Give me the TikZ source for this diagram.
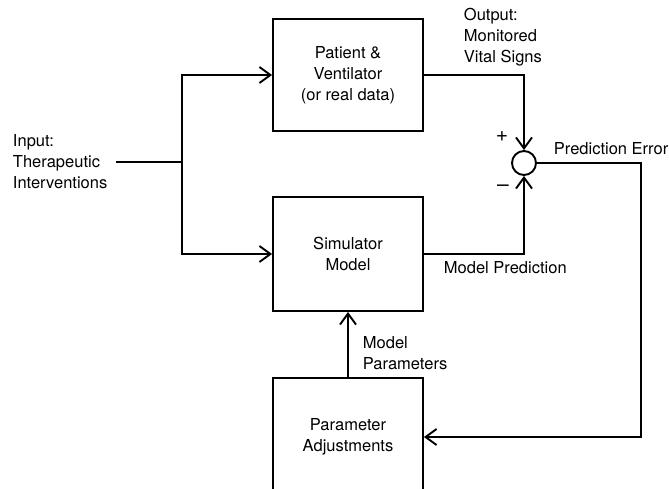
\documentclass[tikz,border=0pt]{standalone}
\usepackage{fontspec}
\setmainfont{TeX Gyre Heros}
\usetikzlibrary{arrows.meta,positioning}

\begin{document}
\begin{tikzpicture}[x=1pt,y=-1pt,line width=1.9pt,
  every node/.style={font=\fontsize{16.5}{21}\selectfont},
  block/.style={draw,minimum width=150pt,inner sep=0pt,align=center},
  lbl/.style={anchor=west,align=left,inner sep=0pt},
  sign/.style={font=\fontsize{21}{21}\selectfont,inner sep=0pt},
  arr/.style={-{Straight Barb[length=11pt,width=16pt]}}]
\clip (0,0) rectangle (669,489);
% blocks
\node [block,minimum height=112pt] (patient) at (348,75) {Patient \&\\Ventilator\\(or real data)};
\node [block,minimum height=114pt] (sim) at (348,254) {Simulator\\Model};
\node [block,minimum height=118pt] (param) at (348,437) {Parameter\\Adjustments};
\node [draw,circle,minimum size=24pt,inner sep=0pt] (sum) at (524,163) {};
% labels
\node [lbl] (input) at (12,162) {Input:\\Therapeutic\\Interventions};
\node [lbl] (output) at (463,37) {Output:\\Monitored\\Vital Signs};
\node [lbl] (error) at (553,149) {Prediction Error};
\node [lbl] (pred) at (443,268) {Model Prediction};
\node [lbl] (mpar) at (362,353) {Model\\Parameters};
\node [sign] (plus) at (502,137) {+};
\node [sign] (minus) at (503,188) {--};
\coordinate (in) at (116,162);
\coordinate (split) at (182,162);
\coordinate (turn) at (641,163);
% connectors
\draw (in) -- (split);
\draw [arr] (split) |- (patient.west);
\draw [arr] (split) |- (sim.west);
\draw [arr] (patient.east) -| (sum.north);
\draw [arr] (sim.east) -| (sum.south);
\draw [arr] (sum.east) -- (turn) |- (param.east);
\draw [arr] (param) -- (sim);
\end{tikzpicture}
\end{document}
